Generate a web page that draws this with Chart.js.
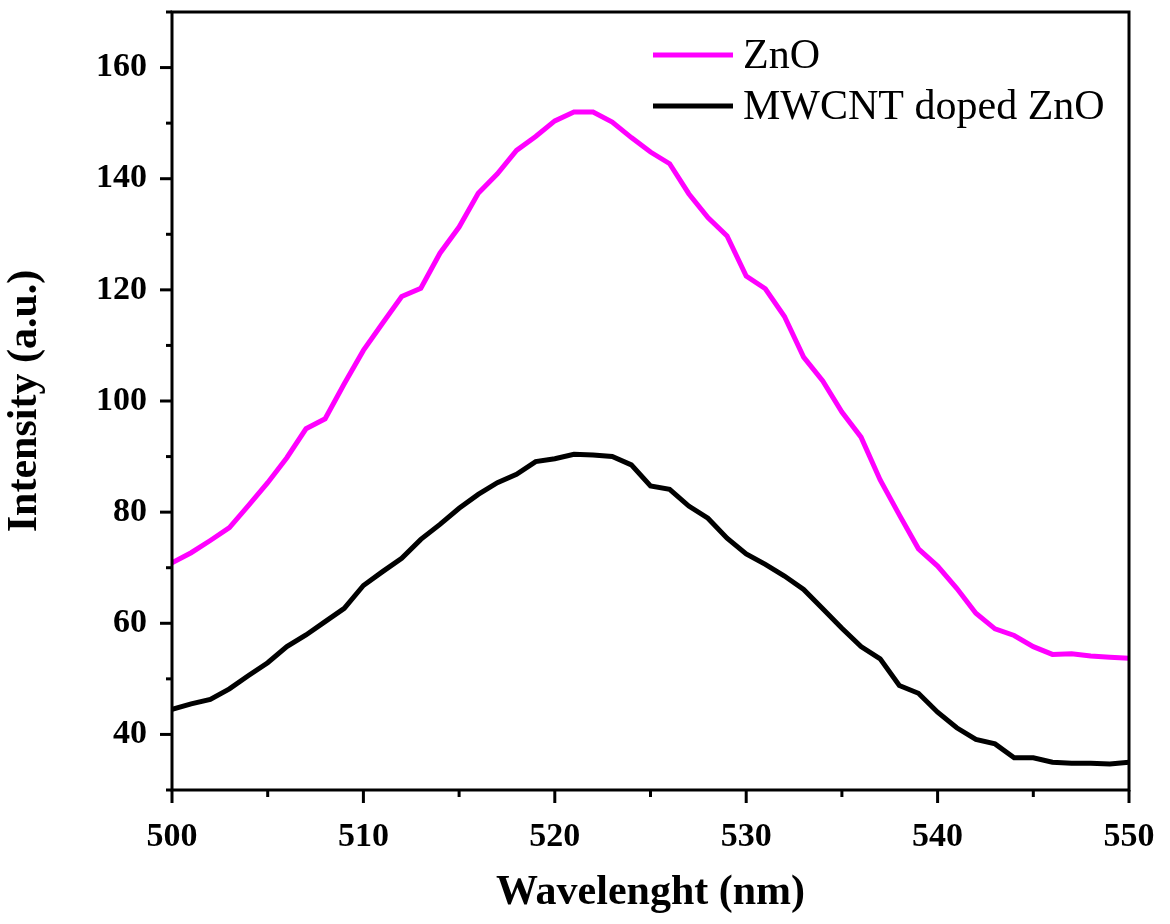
<!DOCTYPE html>
<html>
<head>
<meta charset="utf-8">
<script src="https://cdn.jsdelivr.net/npm/chart.js@4/dist/chart.umd.min.js"></script>
<style>
  html, body { margin: 0; padding: 0; background: #fff; }
  #wrap { width: 1170px; height: 924px; }
</style>
</head>
<body>
<div id="wrap"><canvas id="plChart" width="1170" height="924"></canvas></div>
<script>
// Wavelength axis (nm)
const wavelengths = [500, 501, 502, 503, 504, 505, 506, 507, 508, 509,
  510, 511, 512, 513, 514, 515, 516, 517, 518, 519,
  520, 521, 522, 523, 524, 525, 526, 527, 528, 529,
  530, 531, 532, 533, 534, 535, 536, 537, 538, 539,
  540, 541, 542, 543, 544, 545, 546, 547, 548, 549, 550];

// PL intensity
const znoIntensity = [70.9, 72.7, 74.9, 77.2, 81.2, 85.3, 89.8, 95.0, 96.8, 103.1,
  109.1, 114.0, 118.8, 120.3, 126.6, 131.3, 137.4, 140.9, 145.1, 147.6,
  150.4, 152.0, 152.0, 150.2, 147.4, 144.8, 142.7, 137.3, 133.0, 129.7,
  122.5, 120.2, 115.2, 107.9, 103.6, 98.0, 93.5, 85.8, 79.5, 73.4,
  70.3, 66.3, 61.8, 59.0, 57.8, 55.8, 54.4, 54.5, 54.1, 53.9, 53.7];

const mwcntIntensity = [44.5, 45.5, 46.3, 48.2, 50.6, 52.9, 55.8, 57.9, 60.3, 62.7,
  66.8, 69.3, 71.7, 75.1, 77.8, 80.7, 83.2, 85.3, 86.8, 89.1,
  89.6, 90.4, 90.3, 90.0, 88.5, 84.7, 84.1, 81.1, 78.9, 75.3,
  72.5, 70.6, 68.5, 66.1, 62.6, 59.1, 55.8, 53.6, 48.8, 47.4,
  44.0, 41.2, 39.1, 38.3, 35.8, 35.8, 35.0, 34.8, 34.8, 34.7, 35.0];

const seriesNames = ['ZnO', 'MWCNT doped ZnO'];
const seriesColors = ['#ff00ff', '#000000'];

const xTickLabels = [500, 510, 520, 530, 540, 550];
const yTickLabels = [40, 60, 80, 100, 120, 140, 160];

const serif = '"Times New Roman", "Liberation Serif", serif';

// stop chart.js from reserving room for the edge labels
function noEdgePadding(s) {
    s.paddingLeft = 0;
    s.paddingRight = 0;
    s.paddingTop = 0;
    s.paddingBottom = 0;
}

// box around the plot + ticks (major outward 12px, minor 6px)
const framePlugin = {
    id: 'frame',
    afterDraw(chart) {
        const ctx = chart.ctx;
        const a = chart.chartArea;
        ctx.save();
        ctx.strokeStyle = '#000';
        ctx.lineWidth = 3;
        ctx.strokeRect(a.left, a.top, a.right - a.left, a.bottom - a.top);

        const xs = chart.scales.x;
        xs.ticks.forEach(t => {
            const px = xs.getPixelForValue(t.value);
            const len = xTickLabels.includes(t.value) ? 13 : 7;
            ctx.beginPath();
            ctx.moveTo(px, a.bottom);
            ctx.lineTo(px, a.bottom + len);
            ctx.stroke();
        });
        const ys = chart.scales.y;
        ys.ticks.forEach(t => {
            const py = ys.getPixelForValue(t.value);
            const len = yTickLabels.includes(t.value) ? 12 : 6;
            ctx.beginPath();
            ctx.moveTo(a.left, py);
            ctx.lineTo(a.left - len, py);
            ctx.stroke();
        });
        ctx.restore();
    }
};

// legend drawn as line samples, top right inside the plot
const lineLegend = {
    id: 'lineLegend',
    afterDraw(chart) {
        const ctx = chart.ctx;
        const a = chart.chartArea;
        const x0 = a.right - 476;
        ctx.save();
        ctx.font = '42px ' + serif;
        ctx.textBaseline = 'middle';
        chart.data.datasets.forEach((ds, i) => {
            const y = a.top + 43 + i * 51;
            ctx.strokeStyle = ds.borderColor;
            ctx.lineWidth = 5;
            ctx.beginPath();
            ctx.moveTo(x0, y);
            ctx.lineTo(x0 + 80, y);
            ctx.stroke();
            ctx.fillStyle = '#000';
            ctx.fillText(ds.label, x0 + 90, y + 2);
        });
        ctx.restore();
    }
};

new Chart(document.getElementById('plChart'), {
    type: 'line',
    data: {
        datasets: [
            {
                label: seriesNames[0],
                data: wavelengths.map((w, i) => ({ x: w, y: znoIntensity[i] })),
                borderColor: seriesColors[0],
                borderWidth: 5,
                pointRadius: 0,
                tension: 0
            },
            {
                label: seriesNames[1],
                data: wavelengths.map((w, i) => ({ x: w, y: mwcntIntensity[i] })),
                borderColor: seriesColors[1],
                borderWidth: 5,
                pointRadius: 0,
                tension: 0
            }
        ]
    },
    options: {
        responsive: false,
        animation: false,
        layout: { padding: { top: 12, right: 41, bottom: 0, left: 0 } },
        plugins: {
            legend: { display: false },
            tooltip: { enabled: false }
        },
        scales: {
            x: {
                type: 'linear',
                min: 500,
                max: 550,
                afterFit: s => { s.height = 134; noEdgePadding(s); },
                border: { display: false },
                grid: { display: false, drawTicks: false },
                ticks: {
                    stepSize: 5,
                    padding: 27,
                    color: '#000',
                    font: { family: serif, size: 34, weight: 'bold' },
                    callback: v => xTickLabels.includes(v) ? String(v) : ''
                },
                title: {
                    display: true,
                    text: 'Wavelenght (nm)',
                    color: '#000',
                    font: { family: serif, size: 42, weight: 'bold' },
                    padding: { top: 0, bottom: 6 }
                }
            },
            y: {
                min: 30,
                max: 170,
                afterFit: s => { s.width = 172; noEdgePadding(s); },
                border: { display: false },
                grid: { display: false, drawTicks: false },
                ticks: {
                    stepSize: 10,
                    padding: 25,
                    color: '#000',
                    font: { family: serif, size: 34, weight: 'bold' },
                    callback: v => yTickLabels.includes(v) ? String(v) : ''
                },
                title: {
                    display: true,
                    text: 'Intensity (a.u.)',
                    color: '#000',
                    font: { family: serif, size: 42, weight: 'bold' },
                    padding: { top: 0, bottom: 7 }
                }
            }
        }
    },
    plugins: [framePlugin, lineLegend]
});
</script>
</body>
</html>
